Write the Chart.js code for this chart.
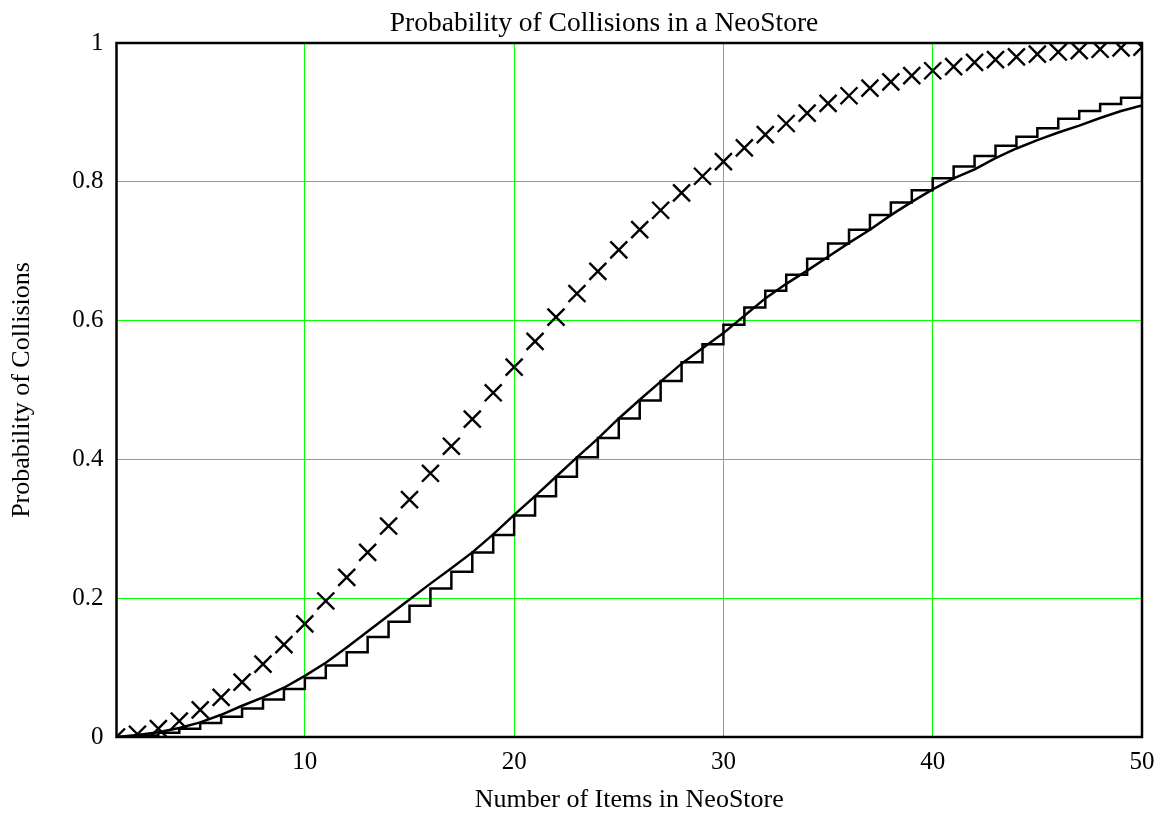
<!DOCTYPE html>
<html>
<head>
<meta charset="utf-8">
<script src="https://cdn.jsdelivr.net/npm/chart.js@4/dist/chart.umd.min.js"></script>
<style>
  html, body { margin: 0; padding: 0; background: #fff; }
  #wrap { width: 1166px; height: 813px; }
</style>
</head>
<body>
<div id="wrap"><canvas id="c" width="1166" height="813"></canvas></div>
<script>
// ---- data ----
const items = [1,2,3,4,5,6,7,8,9,10,11,12,13,14,15,16,17,18,19,20,21,22,23,24,25,26,27,28,29,30,31,32,33,34,35,36,37,38,39,40,41,42,43,44,45,46,47,48,49,50];

// X markers
const crossValues = [0,0.004,0.012,0.023,0.039,0.057,0.079,0.105,0.133,0.163,0.196,0.230,0.266,0.304,0.342,0.380,0.419,0.458,0.496,0.533,0.570,0.605,0.639,0.671,0.702,0.731,0.759,0.784,0.808,0.829,0.849,0.868,0.884,0.899,0.913,0.924,0.935,0.944,0.953,0.960,0.966,0.972,0.976,0.980,0.984,0.987,0.989,0.991,0.993,0.994];

// stepped line
const stepValues = [0,0.002,0.006,0.012,0.020,0.029,0.041,0.054,0.069,0.085,0.103,0.122,0.144,0.166,0.189,0.214,0.238,0.266,0.291,0.319,0.347,0.375,0.403,0.431,0.459,0.485,0.513,0.540,0.566,0.594,0.619,0.643,0.666,0.689,0.711,0.731,0.752,0.770,0.788,0.805,0.822,0.837,0.852,0.865,0.877,0.891,0.902,0.912,0.921,0.928];

// smooth line
const curveValues = [0,0.003,0.007,0.013,0.021,0.032,0.045,0.057,0.071,0.088,0.107,0.129,0.152,0.175,0.198,0.221,0.243,0.266,0.292,0.320,0.347,0.375,0.403,0.430,0.459,0.486,0.512,0.538,0.560,0.582,0.607,0.632,0.653,0.672,0.692,0.712,0.731,0.752,0.771,0.789,0.805,0.818,0.834,0.848,0.860,0.871,0.881,0.892,0.902,0.910];

const xTicks = [10,20,30,40,50];
const yTicks = [0,0.2,0.4,0.6,0.8,1];
const yTickLabels = ['0','0.2','0.4','0.6','0.8','1'];

const titleText = 'Probability of Collisions in a NeoStore';
const xTitle = 'Number of Items in NeoStore';
const yTitle = 'Probability of Collisions';

// ---- chart ----
const FONT = '"Liberation Serif", "Times New Roman", Times, serif';
const GRID = 'rgb(0,255,0)';
Chart.defaults.color = '#000';
Chart.defaults.borderColor = GRID;
Chart.defaults.font.family = FONT;

const pts = arr => items.map((n, i) => ({ x: n, y: arr[i] }));

const frame = {
  id: 'frame',
  afterLayout(chart) {
    const tb = chart.titleBlock;
    if (tb) { tb.left += 33; tb.right += 33; }
  },
  afterDraw(chart) {
    const a = chart.chartArea, ctx = chart.ctx;
    ctx.save();
    ctx.strokeStyle = '#000';
    ctx.lineWidth = 2.5;
    ctx.strokeRect(a.left, a.top, a.right - a.left, a.bottom - a.top);
    ctx.restore();
  }
};

new Chart(document.getElementById('c'), {
  type: 'line',
  data: {
    datasets: [
      {
        label: 'crosses',
        data: pts(crossValues),
        showLine: false,
        pointStyle: 'crossRot',
        pointRadius: 12,
        pointHoverRadius: 12,
        pointBorderWidth: 2.4,
        pointBorderColor: '#000',
        pointBackgroundColor: '#000',
        borderColor: '#000'
      },
      {
        label: 'stepped',
        data: pts(stepValues),
        stepped: true,
        borderColor: '#000',
        borderWidth: 2.5,
        pointRadius: 0,
        fill: false
      },
      {
        label: 'curve',
        data: pts(curveValues),
        tension: 0,
        borderColor: '#000',
        borderWidth: 2.5,
        pointRadius: 0,
        fill: false
      }
    ]
  },
  options: {
    responsive: false,
    animation: false,
    events: [],
    layout: { padding: { left: 0, right: 24, top: 0, bottom: 0 } },
    plugins: {
      legend: { display: false },
      tooltip: { enabled: false },
      title: {
        display: true,
        text: titleText,
        color: '#000',
        font: { family: FONT, size: 27.5, weight: 'normal', lineHeight: 1.2 },
        padding: { top: 7, bottom: 3 }
      }
    },
    scales: {
      x: {
        type: 'linear',
        min: 1,
        max: 50,
        afterBuildTicks: s => { s.ticks = xTicks.map(v => ({ value: v })); },
        afterFit: s => { s.height = 76; },
        grid: { color: () => GRID, lineWidth: 1, drawTicks: false },
        border: { display: false },
        ticks: { padding: 10, font: { family: FONT, size: 25 }, color: '#000', maxRotation: 0 },
        title: {
          display: true, text: xTitle, color: '#000',
          font: { family: FONT, size: 26, lineHeight: 1 },
          padding: { top: 0, bottom: 0 }
        }
      },
      y: {
        type: 'linear',
        min: 0,
        max: 1,
        afterBuildTicks: s => { s.ticks = yTicks.map(v => ({ value: v })); },
        afterFit: s => { s.width = 116.5; },
        grid: { color: () => GRID, lineWidth: 1, drawTicks: false },
        border: { display: false },
        ticks: {
          padding: 13, font: { family: FONT, size: 25 }, color: '#000',
          callback: (v, i) => yTickLabels[i]
        },
        title: {
          display: true, text: yTitle, color: '#000',
          font: { family: FONT, size: 26, lineHeight: 1 },
          padding: { top: 9, bottom: 0 }
        }
      }
    }
  },
  plugins: [frame]
});
</script>
</body>
</html>
